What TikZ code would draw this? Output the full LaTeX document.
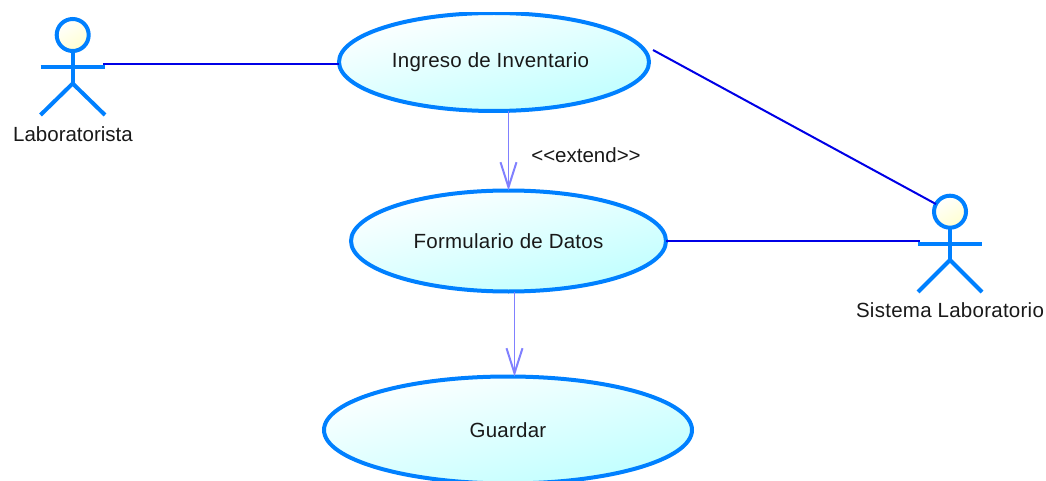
\documentclass[tikz,border=0pt]{standalone}
\usepackage{fontspec}
\setmainfont{Liberation Sans}[Ligatures=TeXOff]
\usetikzlibrary{shapes.geometric,arrows.meta,shadings}
\definecolor{umlblue}{HTML}{0080FF}
\definecolor{assoc}{HTML}{0000E6}
\definecolor{dep}{HTML}{8080FF}
\definecolor{ucfill}{HTML}{BEFFFF}
\definecolor{headfill}{HTML}{FFFFD0}
\tikzset{
  x=1pt,y=-1pt,
  usecase/.style={ellipse,draw=umlblue,line width=4pt,inner sep=0pt,outer sep=0pt,
    top color=white,bottom color=ucfill,shading angle=14,font=\fontsize{20.5pt}{22pt}\selectfont\addfontfeatures{LetterSpace=1.2},text=black!90},
  actorhead/.style={circle,draw=umlblue,line width=4pt,inner sep=0pt,outer sep=0pt,minimum size=32pt,
    top color=white,bottom color=headfill,shading angle=30},
  actorline/.style={draw=umlblue,line width=4pt},
  assocline/.style={draw=assoc,line width=2pt},
  depline/.style={draw=dep,line width=1pt,-{Straight Barb[length=25pt,width=16pt,line width=2pt]}},
  txt/.style={font=\fontsize{20.5pt}{22pt}\selectfont,text=black!90,inner sep=0pt}
}
\begin{document}
\begin{tikzpicture}
\useasboundingbox (0,0) rectangle (1046,481);
\clip (0,13) rectangle (1046,481);
% use cases
\node[usecase,minimum width=310pt,minimum height=98pt] (ing) at (494,62) {\hspace*{-7pt}Ingreso de Inventario};
\node[usecase,minimum width=315pt,minimum height=101pt] (form) at (508.5,241) {Formulario de Datos};
\node[usecase,minimum width=368pt,minimum height=107pt] (guar) at (508,430) {Guardar};
% actor 1
\node[actorhead] (h1) at (72.7,35) {};
\coordinate (hip1) at (72.7,83.5);
\coordinate (armL1) at (40.5,67);
\coordinate (armR1) at (104.5,67);
\coordinate (footL1) at (40.5,115);
\coordinate (footR1) at (105,115);
\draw[actorline] (h1) -- (hip1);
\draw[actorline] (armL1) -- (armR1);
\draw[actorline] (footL1) -- (hip1) -- (footR1);
\node[txt] (lab1) at (73,134) {Laboratorista};
% actor 2
\coordinate (hip2) at (950,260);
\coordinate (armL2) at (918,243.7);
\coordinate (armR2) at (982,243.7);
\coordinate (footL2) at (918,292);
\coordinate (footR2) at (982,292);
\coordinate (src1) at (103,64);
\coordinate (src2) at (653,50);
\coordinate (dst3) at (920,241);
\node[actorhead] (h2) at (950,211.7) {};
\draw[actorline] (h2) -- (hip2);
\draw[actorline] (armL2) -- (armR2);
\draw[actorline] (footL2) -- (hip2) -- (footR2);
\node[txt] (lab2) at (950,310) {\addfontfeatures{LetterSpace=1.3}Sistema Laboratorio};
% associations
\draw[assocline] (src1) -- (ing.west |- src1);
\draw[assocline] (src2) -- (h2);
\draw[assocline] (form.east) -- (dst3);
% dependencies
\draw[depline] ([xshift=14.5pt]ing.south) -- (form.north);
\draw[depline] ([xshift=6pt]form.south) -- ([xshift=6.5pt]guar.north);
\node[txt] (ext) at (586,155) {<<extend>>};
\end{tikzpicture}
\end{document}
